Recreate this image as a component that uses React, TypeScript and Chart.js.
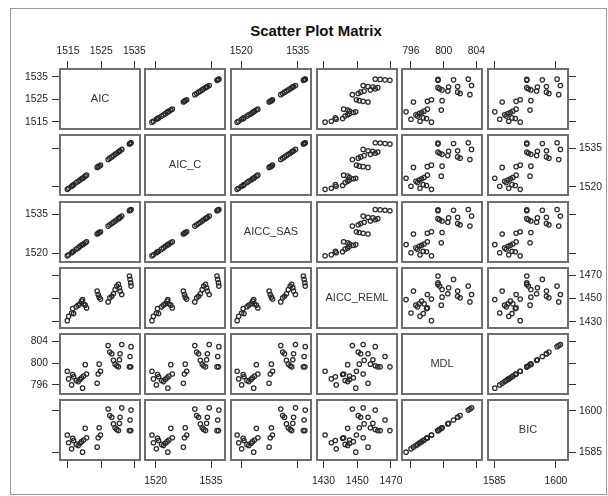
import React, { useEffect, useRef } from "react";
import { Chart, registerables } from "chart.js";

Chart.register(...registerables);

// ---------- data ----------
const variableNames = ["AIC", "AIC_C", "AICC_SAS", "AICC_REML", "MDL", "BIC"];

const aic = [1514.8, 1515.2, 1516.1, 1516.4, 1516.7, 1517.5, 1518.1, 1518.6, 1519.1, 1519.4, 1519.7, 1520.2, 1520.6, 1523.8, 1524.1, 1524.4, 1524.8, 1527.1, 1527.6, 1528.2, 1528.7, 1529.2, 1529.7, 1530.2, 1530.5, 1530.7, 1531.2, 1533.5, 1533.7, 1533.9, 1534.0];
const aicC = [1519.0, 1519.4, 1520.2, 1520.5, 1520.8, 1521.6, 1522.1, 1522.6, 1523.1, 1523.3, 1523.6, 1524.1, 1524.5, 1527.5, 1527.8, 1528.0, 1528.4, 1530.6, 1531.1, 1531.6, 1532.1, 1532.6, 1533.0, 1533.5, 1533.8, 1534.0, 1534.5, 1536.6, 1536.8, 1537.0, 1537.1];
const aiccSas = [1518.9, 1519.3, 1520.1, 1520.5, 1520.7, 1521.5, 1522.0, 1522.6, 1523.0, 1523.3, 1523.5, 1524.0, 1524.4, 1527.4, 1527.7, 1528.0, 1528.3, 1530.5, 1531.0, 1531.5, 1532.0, 1532.5, 1533.0, 1533.4, 1533.7, 1533.9, 1534.4, 1536.5, 1536.7, 1536.9, 1537.0];
const aiccReml = [1430.9, 1434.6, 1437.5, 1441.3, 1437.0, 1442.8, 1444.3, 1445.4, 1447.7, 1449.1, 1445.4, 1444.3, 1441.9, 1456.4, 1453.5, 1451.2, 1449.5, 1447.1, 1450.6, 1452.0, 1454.1, 1457.8, 1460.7, 1462.2, 1459.3, 1456.4, 1453.5, 1469.4, 1466.5, 1463.6, 1460.7];
const mdl = [798.5, 797.1, 796.0, 797.9, 797.5, 796.8, 796.6, 797.0, 797.3, 795.4, 797.6, 799.7, 798.0, 796.3, 798.0, 799.8, 798.5, 803.2, 802.0, 801.7, 800.5, 799.8, 799.5, 799.3, 800.6, 801.7, 803.4, 799.3, 801.2, 799.3, 803.0];
const bic = [1591.3, 1588.5, 1586.3, 1590.1, 1589.3, 1587.9, 1587.5, 1588.3, 1588.9, 1585.1, 1589.5, 1593.7, 1590.3, 1586.9, 1590.3, 1593.9, 1591.3, 1600.7, 1598.3, 1597.7, 1595.3, 1593.9, 1593.3, 1592.9, 1595.5, 1597.7, 1601.1, 1592.9, 1596.7, 1592.9, 1600.3];

const series = [aic, aicC, aiccSas, aiccReml, mdl, bic];

const tickValues = [
  [1515, 1525, 1535],
  [1520, 1535],
  [1520, 1535],
  [1430, 1450, 1470],
  [796, 800, 804],
  [1585, 1600],
];

const xMin = [1512.3, 1516.85, 1517.0, 1425.5, 794.78, 1583.2];
const xMax = [1537.0, 1539.04, 1538.8, 1474.2, 804.8, 1603.2];
const yMin = [1511.3, 1516.4, 1516.1, 1423.7, 794.15, 1581.9];
const yMax = [1539.0, 1540.5, 1540.3, 1477.2, 805.5, 1604.3];

// ---------- layout ----------
const FONT = '"Liberation Sans", Arial, Helvetica, sans-serif';
const COL_LEFT = [59, 144, 230, 316, 401, 487];
const ROW_TOP = [68, 134, 201, 267, 333, 399];
const PW = 82;
const PH = 62;
const AX_H = 30;
const AX_W = 45;
const EXTRA = 14;
const N = 6;

Chart.defaults.font.family = FONT;

const framePlugin = {
  id: "panelFrame",
  afterDatasetsDraw(chart: any, _args: any, opts: any) {
    const { ctx, chartArea: a } = chart;
    ctx.save();
    ctx.strokeStyle = "#6e6e6e";
    ctx.lineWidth = 2;
    ctx.strokeRect(a.left + 1, a.top + 1, a.right - a.left - 2, a.bottom - a.top - 2);
    if (opts && opts.label) {
      ctx.fillStyle = "#333";
      ctx.font = `11px ${FONT}`;
      ctx.textAlign = "center";
      ctx.textBaseline = "middle";
      ctx.fillText(opts.label, (a.left + a.right) / 2, (a.top + a.bottom) / 2);
    }
    ctx.restore();
  },
};

function geometry(r: number, c: number) {
  const T = r === 0 ? AX_H : 0;
  const B = r === N - 1 ? AX_H : 0;
  const L = c === 0 ? AX_W : 0;
  const R = c === N - 1 ? AX_W : 0;
  return {
    T, B, L, R,
    left: COL_LEFT[c] - L - EXTRA,
    top: ROW_TOP[r] - T - EXTRA,
    width: PW + L + R + 2 * EXTRA,
    height: PH + T + B + 2 * EXTRA,
  };
}

function makeConfig(r: number, c: number) {
  const g = geometry(r, c);
  const showTop = r === 0;
  const showBottom = r === N - 1;
  const showLeft = c === 0;
  const showRight = c === N - 1;
  const xLabeled = (showTop && c % 2 === 0) || (showBottom && c % 2 === 1);
  const yLabeled = (showLeft && r % 2 === 0) || (showRight && r % 2 === 1);
  const tickFont = { family: FONT, size: 10.3 };

  const datasets: any[] = [];
  if (r !== c) {
    datasets.push({
      data: series[c].map((v, i) => ({ x: v, y: series[r][i] })),
      pointStyle: "circle",
      pointRadius: 2.2,
      pointBorderWidth: 1.25,
      borderColor: "#2a2a2a",
      backgroundColor: "rgba(0,0,0,0)",
      showLine: false,
    });
  }

  return {
    type: "scatter",
    data: { datasets },
    plugins: [framePlugin],
    options: {
      animation: false,
      responsive: false,
      events: [],
      layout: { padding: EXTRA },
      plugins: {
        legend: { display: false },
        tooltip: { enabled: false },
        title: { display: false },
        panelFrame: { label: r === c ? variableNames[r] : "" },
      },
      scales: {
        x: {
          type: "linear",
          display: showTop || showBottom,
          position: showTop ? "top" : "bottom",
          bounds: "data",
          min: xMin[c],
          max: xMax[c],
          afterBuildTicks: (s: any) => {
            s.ticks = tickValues[c].map((v) => ({ value: v }));
          },
          afterFit: (s: any) => {
            s.height = showTop ? g.T : g.B;
            s.paddingLeft = 0;
            s.paddingRight = 0;
          },
          ticks: {
            autoSkip: false,
            maxRotation: 0,
            minRotation: 0,
            padding: showTop ? 4 : 7,
            font: tickFont,
            color: "#222",
            callback: (v: any) => (xLabeled ? String(v) : ""),
          },
          grid: { drawOnChartArea: false, drawTicks: true, tickLength: 7, tickColor: "#333", tickWidth: 1 },
          border: { display: false },
        },
        y: {
          type: "linear",
          display: showLeft || showRight,
          position: showLeft ? "left" : "right",
          bounds: "data",
          min: yMin[r],
          max: yMax[r],
          afterBuildTicks: (s: any) => {
            s.ticks = tickValues[r].map((v) => ({ value: v }));
          },
          afterFit: (s: any) => {
            s.width = showLeft ? g.L : g.R;
            s.paddingTop = 0;
            s.paddingBottom = 0;
          },
          ticks: {
            autoSkip: false,
            padding: showLeft ? 4 : 3,
            font: tickFont,
            color: "#222",
            callback: (v: any) => (yLabeled ? String(v) : ""),
          },
          grid: { drawOnChartArea: false, drawTicks: true, tickLength: 7, tickColor: "#333", tickWidth: 1 },
          border: { display: false },
        },
      },
    },
  };
}

export default function App() {
  const refs = useRef<(HTMLCanvasElement | null)[]>([]);

  useEffect(() => {
    const charts: Chart[] = [];
    for (let r = 0; r < N; r++) {
      for (let c = 0; c < N; c++) {
        const el = refs.current[r * N + c];
        if (!el) continue;
        charts.push(new Chart(el, makeConfig(r, c) as any));
      }
    }
    return () => charts.forEach((ch) => ch.destroy());
  }, []);

  const canvases: any[] = [];
  for (let r = 0; r < N; r++) {
    for (let c = 0; c < N; c++) {
      const g = geometry(r, c);
      canvases.push(
        <canvas
          key={`${r}-${c}`}
          ref={(el) => {
            refs.current[r * N + c] = el;
          }}
          width={g.width}
          height={g.height}
          style={{ position: "absolute", left: g.left, top: g.top, width: g.width, height: g.height }}
        />
      );
    }
  }

  return (
    <div
      style={{
        position: "fixed",
        left: 0,
        top: 0,
        width: 608,
        height: 496,
        background: "#fff",
        overflow: "hidden",
        fontFamily: FONT,
      }}
    >
      <div
        style={{
          position: "absolute",
          left: 10,
          top: 8,
          width: 597,
          height: 487,
          border: "1px solid #9a9a9a",
          boxSizing: "border-box",
        }}
      />
      <div
        style={{
          position: "absolute",
          left: 116,
          top: 21,
          width: 400,
          textAlign: "center",
          font: `bold 15px ${FONT}`,
          lineHeight: "20px",
          color: "#111",
        }}
      >
        Scatter Plot Matrix
      </div>
      {canvases}
    </div>
  );
}
